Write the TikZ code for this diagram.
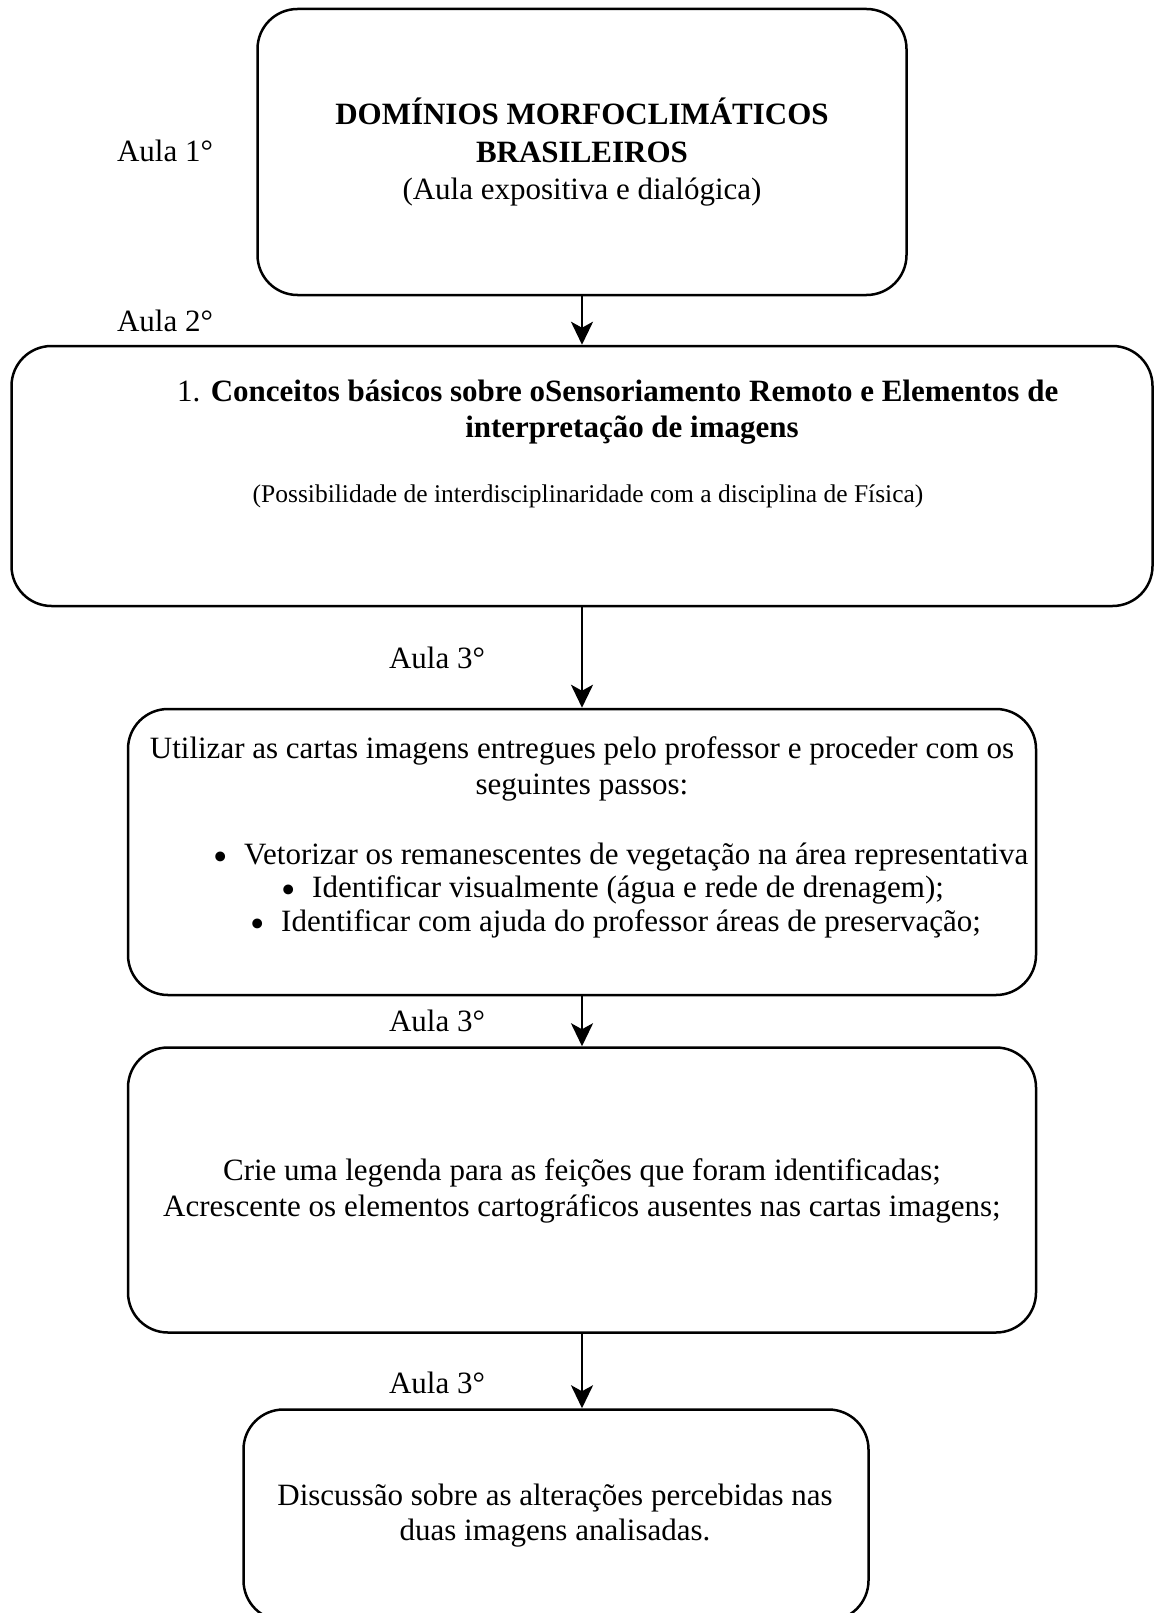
\documentclass[tikz,border=0pt]{standalone}
\usepackage{fontspec}
\setmainfont{Liberation Serif}
\usetikzlibrary{arrows.meta}

\newcommand{\marca}{\llap{\smash{\raisebox{-6pt}{\fontsize{41}{41}\selectfont •}}\hspace{16pt}}}

\begin{document}
\begin{tikzpicture}[x=1pt, y=-1pt,
  seta/.style={line width=2.5pt, -{Stealth[length=23pt,width=22pt,inset=6pt]}},
  caixa/.style={draw, line width=2.5pt, rounded corners=40pt, inner sep=0pt},
  texto/.style={font=\fontsize{31}{37}\selectfont, inner sep=0pt, anchor=base},
  menor/.style={font=\fontsize{25.5}{30}\selectfont, inner sep=0pt, anchor=base},
  item/.style={texto, anchor=base west}]
  \useasboundingbox (0,0) rectangle (1158,1613);

  % Caixas
  \node[caixa, minimum width=649pt, minimum height=286pt] (dominios)  at (582,152) {};
  \node[caixa, minimum width=1141pt, minimum height=260pt] (conceitos) at (582,476) {};
  \node[caixa, minimum width=908pt, minimum height=286pt] (passos)    at (582,852) {};
  \node[caixa, minimum width=908pt, minimum height=285pt] (legenda)   at (582,1190) {};
  \node[caixa, minimum width=625pt, minimum height=211pt] (discussao) at (556,1515) {};

  % Setas
  \draw[seta] (dominios.south) -- (conceitos.north);
  \draw[seta] (conceitos.south) -- (passos.north);
  \draw[seta] (passos.south) -- (legenda.north);
  \draw[seta] (legenda.south) -- (legenda.south |- discussao.north);

  % Aulas
  \node[texto] (aula1) at (165,162) {Aula 1°};
  \node[texto] (aula2) at (165,331) {Aula 2°};
  \node[texto] (aula3a) at (437,668) {Aula 3°};
  \node[texto] (aula3b) at (437,1031) {Aula 3°};
  \node[texto] (aula3c) at (437,1393) {Aula 3°};

  % Aula 1
  \node[texto, font=\fontsize{31}{37}\selectfont\bfseries] (titulo1) at (582,125) {DOMÍNIOS MORFOCLIMÁTICOS};
  \node[texto, font=\fontsize{31}{37}\selectfont\bfseries] (titulo2) at (582,163) {BRASILEIROS};
  \node[texto] (expositiva) at (582,200) {(Aula expositiva e dialógica)};

  % Aula 2
  \node[item] (conceitos1) at (177,401) {1. \textbf{Conceitos básicos sobre oSensoriamento Remoto e Elementos de}};
  \node[texto] (conceitos2) at (632,437) {\textbf{interpretação de imagens}};
  \node[menor] (fisica) at (588,502) {(Possibilidade de interdisciplinaridade com a disciplina de Física)};

  % Aula 3
  \node[texto] (utilizar) at (582,758) {Utilizar as cartas imagens entregues pelo professor e proceder com os};
  \node[texto] (seguintes) at (582,794) {seguintes passos:};
  \node[item] (vetorizar) at (244,864) {\marca Vetorizar os remanescentes de vegetação na área representativa};
  \node[item] (visual) at (312,897) {\marca Identificar visualmente (água e rede de drenagem);};
  \node[item] (preservacao) at (281,931) {\marca Identificar com ajuda do professor áreas de preservação;};

  \node[texto] (crie) at (582,1180) {Crie uma legenda para as feições que foram identificadas;};
  \node[texto] (acrescente) at (582,1216) {Acrescente os elementos cartográficos ausentes nas cartas imagens;};

  \node[texto] (discussao1) at (555,1505) {Discussão sobre as alterações percebidas nas};
  \node[texto] (discussao2) at (555,1540) {duas imagens analisadas.};
\end{tikzpicture}
\end{document}
